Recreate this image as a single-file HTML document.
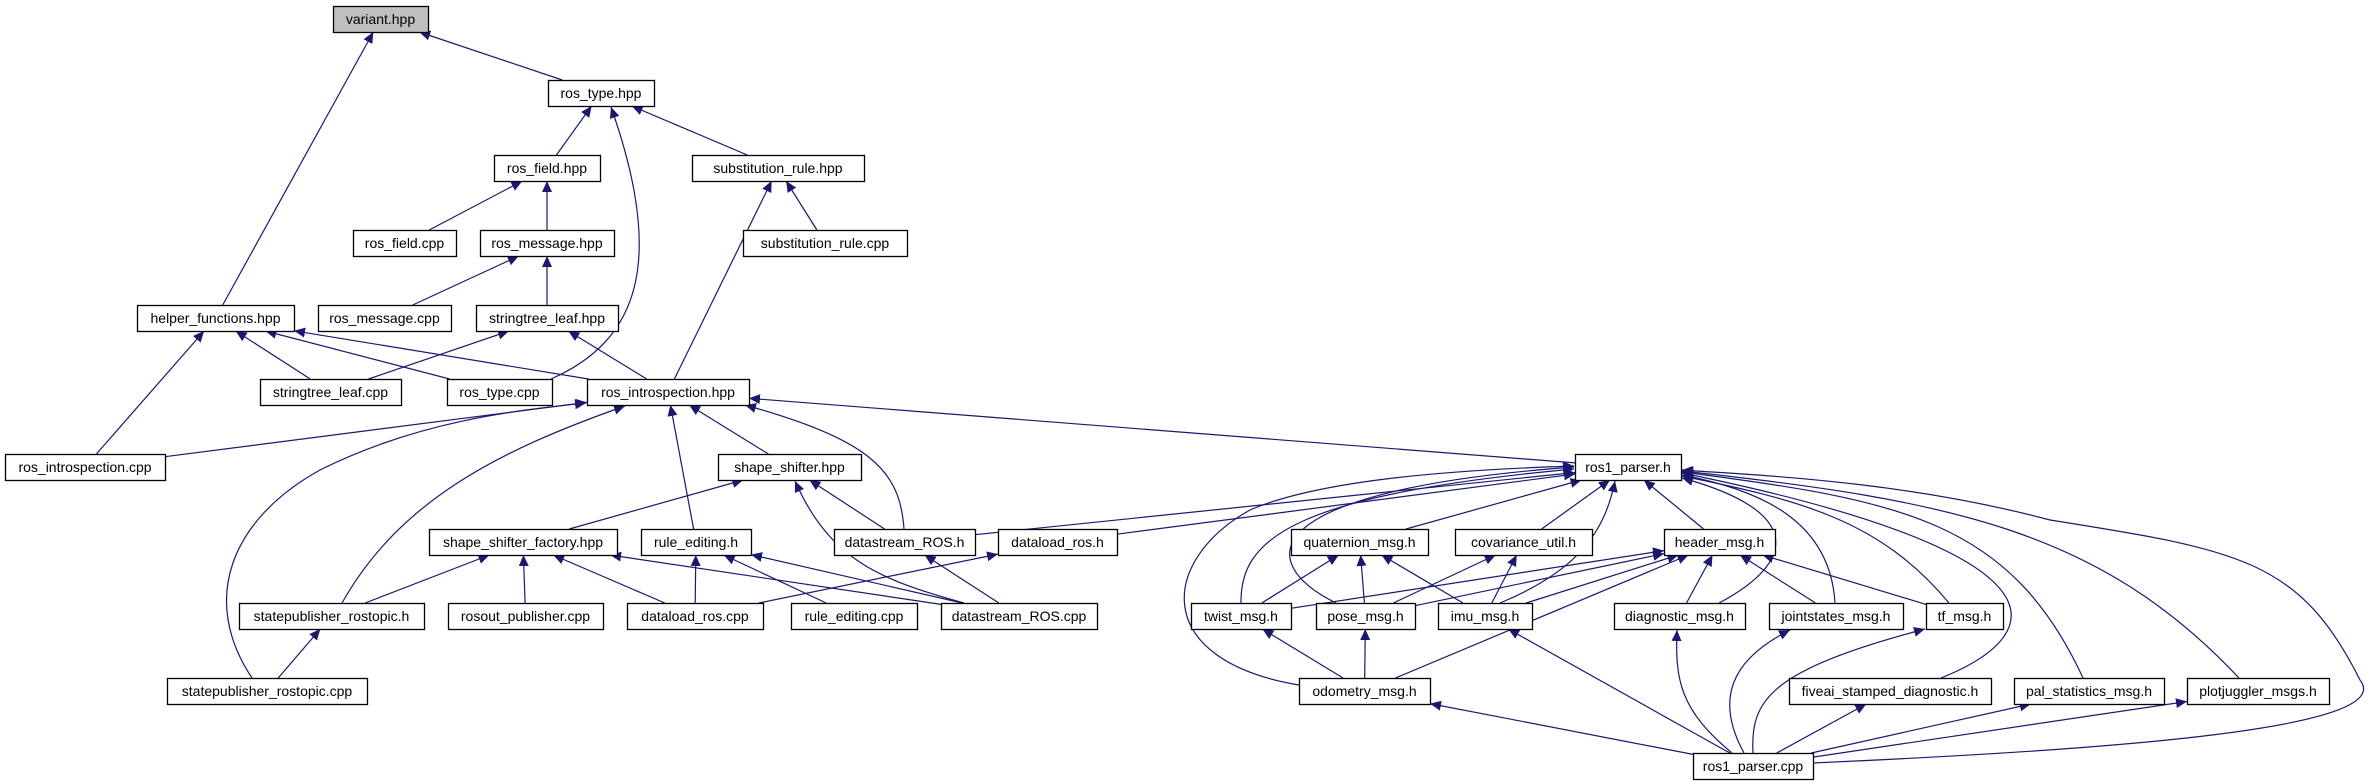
<!DOCTYPE html>
<html><head><meta charset="utf-8"><style>
html,body{margin:0;padding:0;background:#fff}
svg{display:block}
text{font-family:"Liberation Sans","DejaVu Sans",sans-serif;font-size:14px;fill:#000}
</style></head><body>
<svg id="g" width="2377" height="784" viewBox="0 0 2377 784" xmlns="http://www.w3.org/2000/svg">
<defs><marker id="a" markerUnits="userSpaceOnUse" markerWidth="12" markerHeight="10" refX="11" refY="5" orient="auto"><path d="M0,0 L11,5 L0,10 z" fill="#191970"/></marker></defs>
<g id="E" fill="none" stroke="#191970" stroke-width="1.2"></g>
<g id="N"></g>
</svg>
<script>
var N={
variant:[333,6,428,'variant.hpp'],
rostype:[548,80,654,'ros_type.hpp'],
rosfield:[494,155,600,'ros_field.hpp'],
subrule:[692,155,864,'substitution_rule.hpp'],
rosfieldcpp:[353,230,456,'ros_field.cpp'],
rosmsg:[480,230,614,'ros_message.hpp'],
subrulecpp:[743,230,907,'substitution_rule.cpp'],
helper:[137,305,294,'helper_functions.hpp'],
rosmsgcpp:[318,305,451,'ros_message.cpp'],
stleaf:[476,305,618,'stringtree_leaf.hpp'],
stleafcpp:[260,379,401,'stringtree_leaf.cpp'],
rostypecpp:[447,379,552,'ros_type.cpp'],
rosintro:[587,379,749,'ros_introspection.hpp'],
rosintrocpp:[5,454,165,'ros_introspection.cpp'],
shape:[718,454,861,'shape_shifter.hpp'],
ros1h:[1575,454,1681,'ros1_parser.h'],
ssfact:[429,529,617,'shape_shifter_factory.hpp'],
rule:[641,529,751,'rule_editing.h'],
dsh:[834,529,975,'datastream_ROS.h'],
dlh:[998,529,1117,'dataload_ros.h'],
quat:[1291,529,1428,'quaternion_msg.h'],
cov:[1455,529,1592,'covariance_util.h'],
header:[1664,529,1775,'header_msg.h'],
sph:[239,603,424,'statepublisher_rostopic.h'],
rosout:[448,603,603,'rosout_publisher.cpp'],
dlcpp:[627,603,763,'dataload_ros.cpp'],
rulecpp:[791,603,917,'rule_editing.cpp'],
dscpp:[941,603,1097,'datastream_ROS.cpp'],
twist:[1191,603,1291,'twist_msg.h'],
pose:[1316,603,1415,'pose_msg.h'],
imu:[1438,603,1532,'imu_msg.h'],
diag:[1614,603,1745,'diagnostic_msg.h'],
joint:[1769,603,1903,'jointstates_msg.h'],
tf:[1926,603,2003,'tf_msg.h'],
spcpp:[167,678,367,'statepublisher_rostopic.cpp'],
odom:[1299,678,1430,'odometry_msg.h'],
five:[1789,678,1991,'fiveai_stamped_diagnostic.h'],
pal:[2014,678,2164,'pal_statistics_msg.h'],
plot:[2187,678,2329,'plotjuggler_msgs.h'],
ros1cpp:[1693,753,1813,'ros1_parser.cpp']
};
var H=26,svgns="http://www.w3.org/2000/svg";
var straight=[
['rostype','variant'],['helper','variant'],['rosfield','rostype'],['subrule','rostype'],
['rosfieldcpp','rosfield'],['rosmsg','rosfield'],['subrulecpp','subrule'],['rosintro','subrule'],
['rosmsgcpp','rosmsg'],['stleaf','rosmsg'],['stleafcpp','stleaf'],['rosintro','stleaf'],
['stleafcpp','helper'],['rostypecpp','helper'],['rosintro','helper'],['rosintrocpp','helper'],
['rosintrocpp','rosintro'],['rule','rosintro'],['shape','rosintro'],['ros1h','rosintro'],
['ssfact','shape'],['dsh','shape'],['sph','ssfact'],['rosout','ssfact'],['dlcpp','ssfact'],['dscpp','ssfact'],
['dlcpp','rule'],['rulecpp','rule'],['dscpp','rule'],['dscpp','dsh'],['dlcpp','dlh'],['spcpp','sph'],
['dsh','ros1h'],['dlh','ros1h'],['quat','ros1h'],['cov','ros1h'],['header','ros1h'],
['twist','quat'],['pose','quat'],['imu','quat'],['pose','cov'],['imu','cov'],
['twist','header'],['pose','header'],['imu','header'],['odom','header'],['diag','header'],['joint','header'],['tf','header'],
['odom','twist'],['odom','pose'],['ros1cpp','odom'],['ros1cpp','imu'],['ros1cpp','five'],['ros1cpp','pal'],['ros1cpp','plot']
];
function c(n){var b=N[n];return [(b[0]+b[2])/2,b[1]+H/2];}
function clip(b,p,q){ // point where segment from inside center p toward q exits box b
 var x0=b[0],x1=b[2],y0=b[1],y1=b[1]+H,dx=q[0]-p[0],dy=q[1]-p[1],t=1;
 if(dx>0)t=Math.min(t,(x1-p[0])/dx); if(dx<0)t=Math.min(t,(x0-p[0])/dx);
 if(dy>0)t=Math.min(t,(y1-p[1])/dy); if(dy<0)t=Math.min(t,(y0-p[1])/dy);
 return [p[0]+dx*t,p[1]+dy*t];}
var E=document.getElementById('E'),out='';
straight.forEach(function(e){var a=c(e[0]),b=c(e[1]);
 var s=clip(N[e[0]],a,b),t=clip(N[e[1]],b,a);
 out+='<path d="M'+s[0].toFixed(1)+','+s[1].toFixed(1)+' L'+t[0].toFixed(1)+','+t[1].toFixed(1)+'" marker-end="url(#a)"/>';});
var curves=[
'M551,379 C640,340 665,260 611,107',
'M252,678 C200,600 230,520 320,470 C420,420 520,410 586,403',
'M342,603 C400,500 500,450 625,406',
'M904,529 C900,470 870,440 745,405',
'M964,603 C880,580 830,560 795,481',
'M1241,603 C1240,540 1290,495 1574,469',
'M1336,603 C1250,560 1260,490 1574,467',
'M1299,685 C1150,660 1160,560 1250,510 C1320,480 1450,470 1574,466',
'M1500,603 C1580,570 1605,530 1615,481',
'M1719,603 C1800,560 1800,510 1682,478',
'M1835,603 C1830,520 1760,490 1682,475',
'M1949,603 C1880,520 1800,500 1682,476',
'M1941,678 C2060,630 2060,550 1682,473',
'M2083,678 C2010,520 1900,500 1682,472',
'M2239,678 C2100,530 1950,500 1682,471',
'M1813,763 C2100,750 2400,730 2360,680 C2300,560 2240,550 2050,520 C1900,480 1750,475 1682,470',
'M1744,753 C1715,700 1730,660 1790,630',
'M1753,753 C1750,700 1770,670 1925,629',
'M1732,753 C1680,710 1675,680 1677,630'
];
curves.forEach(function(d){out+='<path d="'+d+'" marker-end="url(#a)"/>';});
E.innerHTML=out;
var g='';
for(var k in N){var b=N[k],w=b[2]-b[0];
 g+='<rect x="'+(b[0]+0.5)+'" y="'+(b[1]+0.5)+'" width="'+w+'" height="'+H+'" fill="'+(k=='variant'?'#bfbfbf':'#fff')+'" stroke="#000" stroke-width="1.3"/>';
 g+='<text x="'+(b[0]+w/2)+'" y="'+(b[1]+18)+'" text-anchor="middle">'+b[3]+'</text>';}
document.getElementById('N').innerHTML=g;
</script>
</body></html>
